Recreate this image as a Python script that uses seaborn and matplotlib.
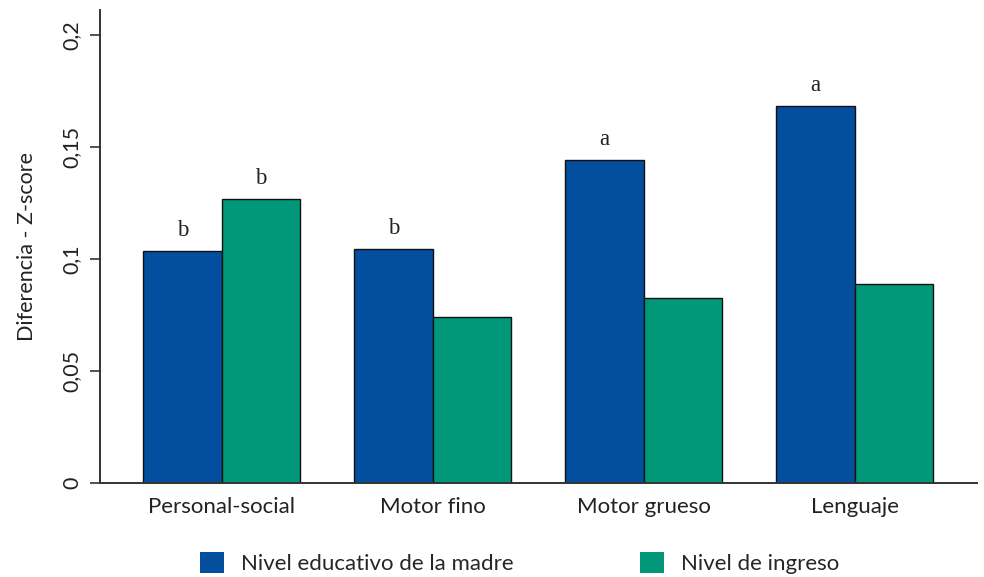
import matplotlib
matplotlib.use("Agg")
import matplotlib.pyplot as plt
from matplotlib.patches import Patch
import seaborn as sns
import pandas as pd

categories = ["Personal-social", "Motor fino", "Motor grueso", "Lenguaje"]
series_names = ["Nivel educativo de la madre", "Nivel de ingreso"]
madre_values = [0.1036, 0.1045, 0.1442, 0.1683]
ingreso_values = [0.1268, 0.0741, 0.0826, 0.0888]
madre_letters = ["b", "b", "a", "a"]
ingreso_letters = ["b", "", "", ""]
y_ticks = [0, 0.05, 0.1, 0.15, 0.2]
y_tick_labels = ["0", "0,05", "0,1", "0,15", "0,2"]

df = pd.DataFrame({
    "Dominio": categories * 2,
    "Serie": [series_names[0]] * 4 + [series_names[1]] * 4,
    "Valor": madre_values + ingreso_values,
})

sns.set_theme(style="white")
plt.rcParams["font.family"] = ["Lato", "DejaVu Sans"]

fig = plt.figure(figsize=(9.84, 5.77), dpi=100)
ax = fig.add_axes([100 / 984, 1 - 483 / 577, 877 / 984, 473 / 577])

palette = {series_names[0]: "#034f9d", series_names[1]: "#009879"}
sns.barplot(data=df, x="Dominio", y="Valor", hue="Serie", order=categories,
            hue_order=series_names, palette=palette, width=0.745,
            edgecolor="#111111", linewidth=1.0, saturation=1, ax=ax)

for container, letters in zip(ax.containers, [madre_letters, ingreso_letters]):
    ax.bar_label(container, labels=letters, padding=7, fontsize=16.5,
                 family=["Liberation Serif", "DejaVu Serif"], color="#222222")

ax.set_xlim(-0.576, 3.58)
ax.set_ylim(0, 0.2112)
ax.set_yticks(y_ticks)
ax.set_yticklabels(y_tick_labels, rotation=90, va="center", fontsize=15.5, color="#222222")
ax.tick_params(axis="y", direction="out", length=7, width=1.2, color="#333333", pad=6, left=True)
ax.tick_params(axis="x", length=0, pad=10, labelsize=16, labelcolor="#222222")
ax.set_xlabel("")
ax.set_ylabel("Diferencia - Z-score", fontsize=15.5, color="#222222", labelpad=18)

for side in ["top", "right"]:
    ax.spines[side].set_visible(False)
for side in ["left", "bottom"]:
    ax.spines[side].set_color("#333333")
    ax.spines[side].set_linewidth(1.4)

ax.legend_.remove()
handles = [Patch(facecolor=palette[name], edgecolor="none") for name in series_names]
fig.legend(handles, series_names, loc="center left", bbox_to_anchor=(200 / 984, 0.0243),
           ncol=2, frameon=False, fontsize=16, handlelength=1.08, handleheight=1.08,
           handletextpad=0.77, columnspacing=5.67, borderaxespad=0, borderpad=0)

fig.savefig("out.png", dpi=100)
